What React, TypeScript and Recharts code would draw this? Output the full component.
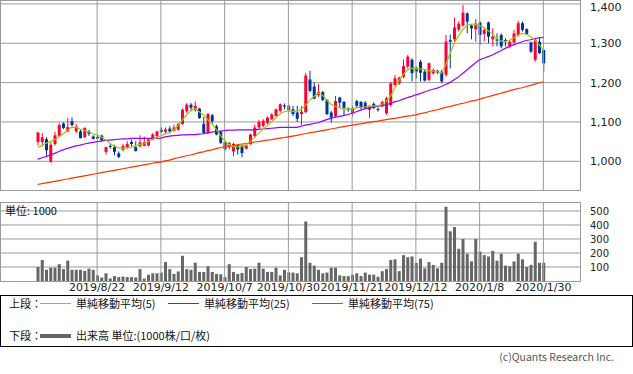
import React from 'react';
import { ComposedChart, Bar, Line, XAxis, YAxis, CartesianGrid, ReferenceLine } from 'recharts';

// trading days, 2019/8/1 - 2020/1/30
const DATES = [
    '2019/8/1', '2019/8/2', '2019/8/5', '2019/8/6', '2019/8/7', '2019/8/8', '2019/8/9', '2019/8/13', '2019/8/14', '2019/8/15',
    '2019/8/16', '2019/8/19', '2019/8/20', '2019/8/21', '2019/8/22', '2019/8/23', '2019/8/26', '2019/8/27', '2019/8/28', '2019/8/29',
    '2019/8/30', '2019/9/2', '2019/9/3', '2019/9/4', '2019/9/5', '2019/9/6', '2019/9/9', '2019/9/10', '2019/9/11', '2019/9/12',
    '2019/9/13', '2019/9/17', '2019/9/18', '2019/9/19', '2019/9/20', '2019/9/24', '2019/9/25', '2019/9/26', '2019/9/27', '2019/9/30',
    '2019/10/1', '2019/10/2', '2019/10/3', '2019/10/4', '2019/10/7', '2019/10/8', '2019/10/9', '2019/10/10', '2019/10/11', '2019/10/15',
    '2019/10/16', '2019/10/17', '2019/10/18', '2019/10/21', '2019/10/23', '2019/10/24', '2019/10/25', '2019/10/28', '2019/10/29', '2019/10/30',
    '2019/10/31', '2019/11/1', '2019/11/5', '2019/11/6', '2019/11/7', '2019/11/8', '2019/11/11', '2019/11/12', '2019/11/13', '2019/11/14',
    '2019/11/15', '2019/11/18', '2019/11/19', '2019/11/20', '2019/11/21', '2019/11/22', '2019/11/25', '2019/11/26', '2019/11/27', '2019/11/28',
    '2019/11/29', '2019/12/2', '2019/12/3', '2019/12/4', '2019/12/5', '2019/12/6', '2019/12/9', '2019/12/10', '2019/12/11', '2019/12/12',
    '2019/12/13', '2019/12/16', '2019/12/17', '2019/12/18', '2019/12/19', '2019/12/20', '2019/12/23', '2019/12/24', '2019/12/25', '2019/12/26',
    '2019/12/27', '2019/12/30', '2020/1/6', '2020/1/7', '2020/1/8', '2020/1/9', '2020/1/10', '2020/1/14', '2020/1/15', '2020/1/16',
    '2020/1/17', '2020/1/20', '2020/1/21', '2020/1/22', '2020/1/23', '2020/1/24', '2020/1/27', '2020/1/28', '2020/1/29', '2020/1/30',
];

const OPEN = [
    1049, 1049, 1056, 1000, 1044, 1065, 1096, 1076, 1102, 1076,
    1076, 1061, 1075, 1063, 1062, 1065, 1024, 1039, 1036, 1020,
    1029, 1036, 1049, 1036, 1038, 1039, 1040, 1055, 1064, 1080,
    1075, 1083, 1078, 1080, 1095, 1127, 1144, 1130, 1134, 1095,
    1072, 1117, 1089, 1076, 1049, 1036, 1025, 1041, 1040, 1032,
    1044, 1064, 1086, 1090, 1098, 1107, 1115, 1128, 1142, 1130,
    1132, 1124, 1120, 1125, 1208, 1190, 1168, 1176, 1156, 1124,
    1114, 1162, 1151, 1134, 1122, 1153, 1151, 1149, 1131, 1146,
    1133, 1141, 1122, 1143, 1194, 1198, 1215, 1241, 1258, 1238,
    1253, 1228, 1207, 1224, 1230, 1228, 1220, 1308, 1310, 1335,
    1345, 1376, 1345, 1336, 1353, 1324, 1353, 1310, 1310, 1321,
    1308, 1292, 1302, 1321, 1351, 1336, 1302, 1258, 1304, 1283,
];
const HIGH = [
    1075, 1072, 1061, 1048, 1075, 1097, 1099, 1110, 1112, 1095,
    1080, 1086, 1080, 1066, 1066, 1068, 1037, 1044, 1042, 1025,
    1044, 1051, 1055, 1051, 1066, 1063, 1059, 1072, 1077, 1086,
    1086, 1089, 1093, 1097, 1134, 1148, 1148, 1152, 1136, 1112,
    1123, 1120, 1093, 1078, 1051, 1049, 1047, 1042, 1042, 1042,
    1070, 1093, 1105, 1107, 1114, 1122, 1134, 1147, 1147, 1145,
    1141, 1141, 1140, 1224, 1230, 1200, 1196, 1179, 1158, 1128,
    1166, 1164, 1153, 1137, 1141, 1156, 1153, 1153, 1142, 1150,
    1137, 1154, 1164, 1202, 1220, 1215, 1259, 1270, 1262, 1241,
    1258, 1232, 1251, 1236, 1233, 1232, 1321, 1322, 1365, 1356,
    1397, 1378, 1348, 1362, 1355, 1340, 1355, 1338, 1325, 1325,
    1313, 1308, 1334, 1357, 1355, 1338, 1304, 1313, 1314, 1283,
];
const LOW = [
    1040, 1038, 1014, 996, 1040, 1062, 1082, 1074, 1089, 1072,
    1058, 1059, 1064, 1055, 1056, 1051, 1017, 1032, 1015, 1008,
    1025, 1032, 1038, 1025, 1035, 1038, 1038, 1053, 1061, 1072,
    1069, 1072, 1075, 1078, 1093, 1123, 1127, 1126, 1108, 1069,
    1069, 1095, 1066, 1044, 1027, 1030, 1013, 1017, 1010, 1030,
    1042, 1059, 1081, 1086, 1094, 1105, 1114, 1124, 1132, 1125,
    1115, 1100, 1092, 1122, 1175, 1158, 1164, 1153, 1117, 1098,
    1111, 1136, 1115, 1126, 1114, 1136, 1132, 1132, 1110, 1133,
    1126, 1138, 1118, 1139, 1190, 1194, 1211, 1236, 1203, 1210,
    1203, 1203, 1203, 1220, 1222, 1198, 1215, 1236, 1305, 1330,
    1342, 1325, 1310, 1304, 1296, 1305, 1300, 1292, 1292, 1287,
    1292, 1287, 1300, 1317, 1330, 1321, 1275, 1253, 1273, 1228,
];
const CLOSE = [
    1073, 1061, 1028, 1042, 1066, 1092, 1085, 1087, 1092, 1088,
    1059, 1085, 1070, 1057, 1058, 1053, 1036, 1037, 1024, 1011,
    1039, 1044, 1044, 1026, 1048, 1048, 1055, 1068, 1076, 1075,
    1081, 1076, 1086, 1095, 1131, 1144, 1136, 1141, 1110, 1072,
    1120, 1102, 1068, 1047, 1031, 1047, 1044, 1030, 1021, 1040,
    1068, 1086, 1100, 1103, 1111, 1119, 1132, 1145, 1140, 1141,
    1120, 1108, 1126, 1218, 1179, 1159, 1176, 1156, 1120, 1111,
    1153, 1149, 1136, 1130, 1136, 1141, 1136, 1136, 1139, 1135,
    1131, 1151, 1160, 1198, 1211, 1213, 1242, 1266, 1224, 1228,
    1225, 1205, 1249, 1232, 1226, 1203, 1304, 1304, 1340, 1350,
    1378, 1355, 1338, 1350, 1321, 1334, 1317, 1317, 1307, 1292,
    1304, 1304, 1325, 1351, 1334, 1324, 1279, 1308, 1275, 1249,
];

// 出来高 (1000株)
const VOLUME = [
    100, 150, 80, 95, 95, 120, 85, 145, 80, 80,
    80, 72, 88, 80, 40, 25, 55, 18, 35, 28,
    32, 28, 28, 26, 85, 18, 45, 55, 55, 60,
    135, 85, 50, 68, 180, 85, 80, 130, 65, 65,
    105, 65, 50, 48, 28, 120, 65, 50, 57, 100,
    85, 88, 130, 88, 65, 65, 95, 40, 80, 62,
    60, 55, 170, 425, 130, 110, 80, 55, 60, 95,
    95, 40, 35, 35, 45, 55, 35, 60, 45, 45,
    30, 70, 85, 150, 155, 70, 185, 170, 175, 130,
    160, 90, 135, 115, 90, 130, 530, 355, 385, 230,
    300, 195, 140, 300, 210, 185, 175, 215, 145, 195,
    110, 105, 140, 195, 155, 100, 115, 280, 130, 130,
];

const MA5 = [
    1035, 1040, 1046, 1050, 1055, 1062, 1070, 1078, 1087, 1086,
    1082, 1079, 1075, 1070, 1067, 1062, 1054, 1046, 1039, 1034,
    1033, 1034, 1036, 1039, 1043, 1044, 1050, 1056, 1060, 1065,
    1070, 1072, 1080, 1090, 1104, 1118, 1128, 1134, 1126, 1118,
    1106, 1096, 1082, 1066, 1052, 1043, 1038, 1037, 1038, 1041,
    1050, 1060, 1071, 1081, 1090, 1100, 1110, 1120, 1126, 1128,
    1127, 1127, 1132, 1142, 1155, 1164, 1174, 1168, 1156, 1145,
    1140, 1136, 1134, 1132, 1134, 1136, 1137, 1138, 1140, 1141,
    1141, 1145, 1152, 1165, 1185, 1205, 1220, 1232, 1236, 1237,
    1235, 1233, 1231, 1229, 1228, 1224, 1245, 1272, 1300, 1318,
    1335, 1345, 1349, 1348, 1345, 1340, 1332, 1324, 1312, 1306,
    1304, 1307, 1314, 1321, 1325, 1323, 1317, 1308, 1296, 1283,
];
const MA25 = [
    1005, 1009, 1012, 1016, 1020, 1025, 1029, 1033, 1036, 1039,
    1041, 1044, 1046, 1048, 1050, 1051, 1053, 1054, 1055, 1056,
    1057, 1057, 1058, 1058, 1058, 1058, 1058, 1058, 1058, 1059,
    1062, 1064, 1065, 1066, 1067, 1067, 1068, 1068, 1069, 1070,
    1072, 1074, 1076, 1077, 1078, 1079, 1079, 1080, 1080, 1080,
    1080, 1080, 1081, 1082, 1083, 1084, 1085, 1086, 1086, 1086,
    1086, 1086, 1089, 1092, 1094, 1096, 1098, 1102, 1106, 1109,
    1112, 1114, 1116, 1119, 1122, 1126, 1130, 1134, 1136, 1138,
    1140, 1141, 1144, 1147, 1151, 1154, 1158, 1162, 1165, 1169,
    1172, 1176, 1180, 1183, 1186, 1190, 1195, 1200, 1207, 1214,
    1223, 1232, 1241, 1250, 1258, 1262, 1266, 1270, 1276, 1281,
    1287, 1292, 1296, 1300, 1304, 1307, 1309, 1312, 1314, 1315,
];
const MA75 = [
    941, 943, 945, 947, 949, 951, 953, 955, 957, 959,
    961, 963, 965, 967, 969, 971, 973, 975, 977, 979,
    981, 983, 985, 987, 989, 991, 993, 995, 997, 998,
    1001, 1003, 1006, 1009, 1011, 1014, 1016, 1019, 1022, 1024,
    1027, 1029, 1032, 1035, 1037, 1039, 1040, 1042, 1044, 1045,
    1047, 1049, 1050, 1052, 1054, 1055, 1057, 1059, 1060, 1062,
    1064, 1066, 1068, 1070, 1072, 1074, 1076, 1078, 1080, 1082,
    1084, 1086, 1088, 1090, 1092, 1094, 1095, 1097, 1099, 1101,
    1102, 1104, 1106, 1108, 1109, 1111, 1113, 1115, 1116, 1118,
    1121, 1123, 1126, 1129, 1131, 1134, 1137, 1139, 1142, 1145,
    1147, 1150, 1153, 1155, 1158, 1161, 1164, 1167, 1170, 1173,
    1176, 1179, 1182, 1185, 1187, 1190, 1193, 1196, 1199, 1202,
];

const DATE_TICKS = ['2019/8/22', '2019/9/12', '2019/10/7', '2019/10/30', '2019/11/21', '2019/12/12', '2020/1/8', '2020/1/30'];
const PRICE_TICKS = [1000, 1100, 1200, 1300, 1400];
const VOLUME_TICKS = [100, 200, 300, 400, 500];

const UP = '#ff0033';
const DOWN = '#003399';
const GRID = '#9a9a9a';
const JP = "'Noto Sans CJK JP', sans-serif";
const NUM = "'DejaVu Sans', sans-serif";

const rows = DATES.map((d, i) => ({
    d,
    o: OPEN[i],
    h: HIGH[i],
    l: LOW[i],
    c: CLOSE[i],
    v: VOLUME[i],
    m5: MA5[i],
    m25: MA25[i],
    m75: MA75[i],
}));

const PAD = { left: 35.5, right: 34.5 };

// body + wick, drawn inside the [low, high] range the bar gets from the scale
const Candle = (props: any) => {
    const { x, y, width, height, payload } = props;
    const { o, h, l, c } = payload;
    const top = Math.min(y, y + height);
    const span = Math.abs(height);
    const toY = (v: number) => top + ((h - v) / (h - l || 1)) * span;
    const color = c >= o ? UP : DOWN;
    const cx = x + width / 2;
    const bTop = toY(Math.max(o, c));
    const bBot = toY(Math.min(o, c));
    return (
        <g>
            <line x1={cx} x2={cx} y1={top} y2={top + span} stroke={color} strokeWidth={1} />
            <rect x={x} y={bTop} width={width} height={Math.max(1, bBot - bTop)} fill={color} />
        </g>
    );
};

// right-hand price label; the top one is nudged down so it stays inside the page
const PriceTick = (props: any) => {
    const { x, y, payload } = props;
    return (
        <text x={x} y={Math.max(y, 7)} dy="0.355em" textAnchor="start" fontSize={11} fill="#222" fontFamily={NUM}>
            {Number(payload.value).toLocaleString('en-US')}
        </text>
    );
};

const box = (left: number, top: number, width: number, height: number, border: string): React.CSSProperties => ({
    position: 'absolute',
    left,
    top,
    width,
    height,
    border,
    boxSizing: 'border-box',
    pointerEvents: 'none',
});

const text = (left: number, top: number, size = 11): React.CSSProperties => ({
    position: 'absolute',
    left,
    top,
    fontSize: size,
    lineHeight: `${size + 2}px`,
    fontFamily: JP,
    color: '#111',
    whiteSpace: 'nowrap',
});

const swatch = (left: number, top: number, color: string, h = 1): React.CSSProperties => ({
    position: 'absolute',
    left,
    top,
    width: 31,
    height: h,
    background: color,
});

const App: React.FC = () => {
    return (
        <div style={{ position: 'absolute', left: 0, top: 0, width: 633, height: 374, background: '#fff', overflow: 'hidden' }}>
            <div style={{ position: 'absolute', left: 0, top: 0 }}>
                <ComposedChart width={633} height={192} data={rows} margin={{ top: 0, right: 0, bottom: 2, left: 0 }}>
                    <CartesianGrid stroke={GRID} vertical={false} horizontalValues={PRICE_TICKS} syncWithTicks />
                    <XAxis dataKey="d" hide padding={PAD} />
                    <YAxis
                        orientation="right"
                        width={53}
                        domain={[927, 1410]}
                        ticks={PRICE_TICKS}
                        interval={0}
                        allowDataOverflow
                        tickLine={false}
                        axisLine={false}
                        tickSize={0}
                        tickMargin={10}
                        tick={<PriceTick />}
                    />
                    {DATE_TICKS.map((t) => (
                        <ReferenceLine key={t} x={t} stroke={GRID} />
                    ))}
                    <Bar dataKey={(r: any) => [r.l, r.h]} barSize={3} shape={Candle} isAnimationActive={false} />
                    <Line type="linear" dataKey="m75" stroke="#ff3300" strokeWidth={1.2} dot={false} activeDot={false} isAnimationActive={false} />
                    <Line type="linear" dataKey="m25" stroke="#9900ff" strokeWidth={1.2} dot={false} activeDot={false} isAnimationActive={false} />
                    <Line type="linear" dataKey="m5" stroke="#99cc00" strokeWidth={1.2} dot={false} activeDot={false} isAnimationActive={false} />
                </ComposedChart>
            </div>
            <div style={box(0, 0, 581, 191, `1px solid ${GRID}`)} />

            <div style={{ position: 'absolute', left: 0, top: 200 }}>
                <ComposedChart width={633} height={95} data={rows} margin={{ top: 2, right: 0, bottom: 0, left: 0 }}>
                    <CartesianGrid stroke={GRID} vertical={false} horizontalValues={VOLUME_TICKS} syncWithTicks />
                    <XAxis
                        dataKey="d"
                        ticks={DATE_TICKS}
                        interval={0}
                        height={14}
                        padding={PAD}
                        tickLine={false}
                        axisLine={false}
                        tickSize={0}
                        tickMargin={2}
                        tick={{ fontSize: 11, fill: '#222', fontFamily: NUM }}
                    />
                    <YAxis
                        orientation="right"
                        width={53}
                        domain={[0, 564]}
                        ticks={VOLUME_TICKS}
                        interval={0}
                        allowDataOverflow
                        tickLine={false}
                        axisLine={false}
                        tickSize={0}
                        tickMargin={10}
                        tick={{ fontSize: 10, fill: '#222', fontFamily: NUM }}
                    />
                    {DATE_TICKS.map((t) => (
                        <ReferenceLine key={t} x={t} stroke={GRID} />
                    ))}
                    <Bar dataKey="v" fill="#666666" barSize={3} isAnimationActive={false} />
                </ComposedChart>
            </div>
            <div style={box(0, 202, 581, 80, `1px solid ${GRID}`)} />
            <div style={text(5, 204)}>単位: 1000</div>

            <div style={box(0, 295, 633, 52, '1px solid #000')} />
            <div style={text(9, 297)}>上段：</div>
            <div style={swatch(40, 303, '#99cc00')} />
            <div style={text(76, 297)}>単純移動平均(5)</div>
            <div style={swatch(168, 303, '#9900ff')} />
            <div style={text(204, 297)}>単純移動平均(25)</div>
            <div style={swatch(312, 303, '#ff3300')} />
            <div style={text(348, 297)}>単純移動平均(75)</div>
            <div style={text(9, 329)}>下段：</div>
            <div style={swatch(40, 334, '#666666', 4)} />
            <div style={text(76, 329)}>出来高 単位:(1000株/口/枚)</div>

            <div style={{ ...text(0, 351, 10.5), left: 'auto', right: 19, color: '#555' }}>(c)Quants Research Inc.</div>
        </div>
    );
};

export default App;
